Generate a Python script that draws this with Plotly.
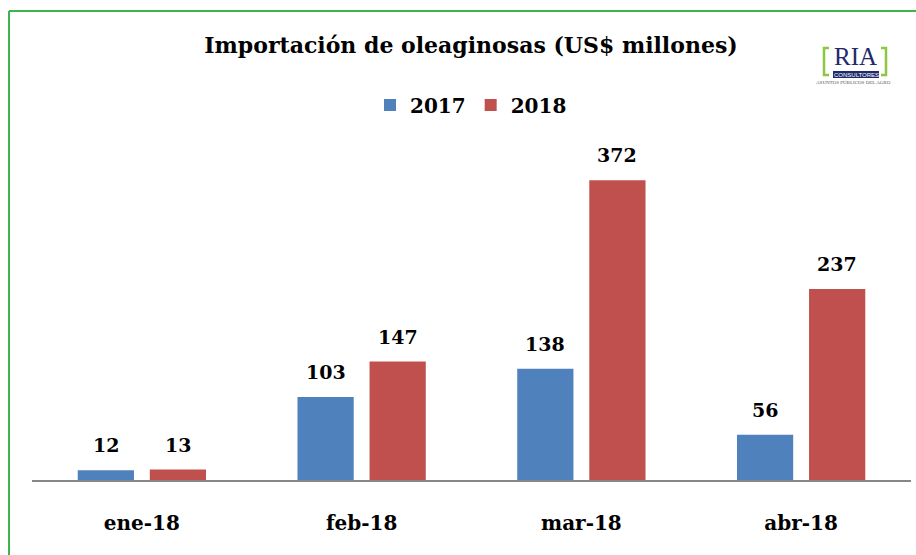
import plotly.graph_objects as go

categories = ["ene-18", "feb-18", "mar-18", "abr-18"]
series_names = ["2017", "2018"]
values_2017 = [12, 103, 138, 56]
values_2018 = [13, 147, 372, 237]
colors = ["#4F81BD", "#C0504D"]

W, H = 916, 555
L, R, T, B = 32, 5, 140, 75
pw = W - L - R
ph = H - T - B
ymax = 421.8

def px(x):
    return (x - L) / pw

def py(y):
    return (H - B - y) / ph

FONT = "DejaVu Serif"

fig = go.Figure()
for name, vals, col in zip(series_names, [values_2017, values_2018], colors):
    fig.add_trace(go.Bar(x=categories, y=vals, name=name, marker=dict(color=col, line=dict(width=0))))

annotations = []
for i, vals in enumerate([values_2017, values_2018]):
    shift = -36 if i == 0 else 36
    for c, v in zip(categories, vals):
        annotations.append(dict(x=c, y=v, xref="x", yref="y", text=f"<b>{v}</b>", showarrow=False,
                                xshift=shift, yshift=25, xanchor="center", yanchor="middle",
                                font=dict(family=FONT, size=19, color="#000000")))

# logo
annotations += [
    dict(x=px(855), y=py(56), xref="paper", yref="paper", text="RIA", showarrow=False,
         xanchor="center", yanchor="middle", borderpad=0,
         font=dict(family="Liberation Serif", size=25, color="#1F2A6B")),
    dict(x=px(856), y=py(74.5), xref="paper", yref="paper", text="CONSULTORES", showarrow=False,
         xanchor="center", yanchor="middle", borderpad=0,
         font=dict(family="Liberation Sans", size=6, color="#FFFFFF")),
    dict(x=px(853), y=py(83), xref="paper", yref="paper", text="ASUNTOS PÚBLICOS DEL AGRO", showarrow=False,
         xanchor="center", yanchor="middle", borderpad=0,
         font=dict(family="Liberation Serif", size=5, color="#555555")),
]

shapes = [
    # green border
    dict(type="line", xref="paper", yref="paper", x0=px(9), x1=px(916), y0=py(11), y1=py(11),
         line=dict(color="#3DB54A", width=2)),
    dict(type="line", xref="paper", yref="paper", x0=px(9), x1=px(9), y0=py(11), y1=py(560),
         line=dict(color="#3DB54A", width=2)),
    # logo brackets
    dict(type="path", xref="paper", yref="paper",
         path=f"M {px(829)},{py(48)} L {px(824)},{py(48)} L {px(824)},{py(75)} L {px(829)},{py(75)}",
         line=dict(color="#8DC63F", width=2.5)),
    dict(type="path", xref="paper", yref="paper",
         path=f"M {px(881)},{py(48)} L {px(886)},{py(48)} L {px(886)},{py(75)} L {px(881)},{py(75)}",
         line=dict(color="#8DC63F", width=2.5)),
    dict(type="rect", xref="paper", yref="paper", x0=px(833), x1=px(879), y0=py(78), y1=py(71),
         fillcolor="#1F2A6B", line=dict(width=0), layer="below"),
]

fig.update_layout(
    width=W, height=H,
    margin=dict(l=L, r=R, t=T, b=B),
    paper_bgcolor="white", plot_bgcolor="white",
    barmode="group", bargap=0.344, bargroupgap=0.22,
    title=dict(text="<b>Importación de oleaginosas (US$ millones)</b>", x=471 / W, y=1 - 45 / H,
               xanchor="center", yanchor="middle", font=dict(family=FONT, size=22, color="#000000")),
    legend=dict(orientation="h", x=px(471), y=py(105), xanchor="center", yanchor="middle",
                font=dict(family=FONT, size=20, color="#000000", weight="bold"),
                itemwidth=30, traceorder="normal"),
    xaxis=dict(showline=True, linecolor="#868686", linewidth=2, ticks="", showgrid=False,
               tickfont=dict(family=FONT, size=20, color="#000000"), ticklabelstandoff=24,
               tickprefix="<b>", ticksuffix="</b>"),
    yaxis=dict(range=[0, ymax], visible=False, showgrid=False, zeroline=False),
    annotations=annotations,
    shapes=shapes,
    showlegend=True,
)

fig.write_html("out.html", config={"displayModeBar": False},
               post_script="document.body.style.margin='0';")
